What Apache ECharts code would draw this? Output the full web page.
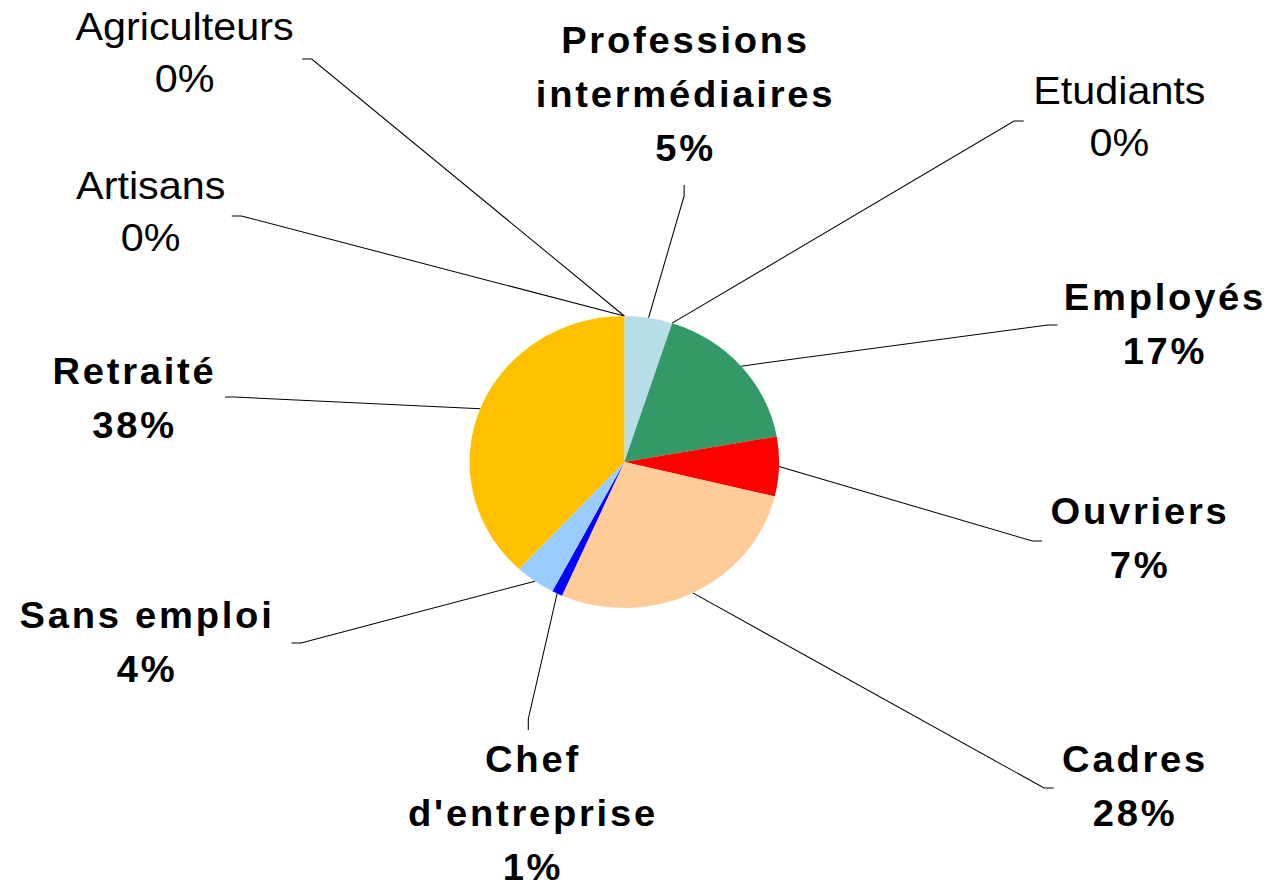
<!DOCTYPE html>
<html>
<head>
<meta charset="utf-8">
<script src="https://cdn.jsdelivr.net/npm/echarts@6/dist/echarts.min.js"></script>
<style>
html, body { margin: 0; padding: 0; background: #fff; overflow: hidden; }
#chart { width: 1200px; height: 887px; transform: scaleX(1.06); transform-origin: 0 0; }
#chart text[style*="bold"] { letter-spacing: 2.6px; }
</style>
</head>
<body>
<div id="chart"></div>
<script>
// ---- data ----
const categories = ['Professions intermédiaires', 'Etudiants', 'Employés', 'Ouvriers', 'Cadres',
  "Chef d'entreprise", 'Sans emploi', 'Retraité', 'Artisans', 'Agriculteurs'];
const shares = [5.0, 0, 17.2, 6.6, 27.8, 1.1, 4.2, 38.1, 0, 0];
const labelTexts = ['Professions\nintermédiaires', 'Etudiants', 'Employés', 'Ouvriers', 'Cadres',
  "Chef\nd'entreprise", 'Sans emploi', 'Retraité', 'Artisans', 'Agriculteurs'];
const boldLabels = [true, false, true, true, true, true, true, true, false, false];
const sliceColors = ['#B7DEE8', '#C0C0C0', '#339966', '#FF0000', '#FFCC99',
  '#0000FF', '#99CCFF', '#FFC000', '#808080', '#A0A0A0'];

// ---- layout (label placement, chart pixel space) ----
const labelPlacement = [
  { x: 646.7, y: 94, side: 'bottom', gap: 10, dx: -1.3 },
  { x: 1056, y: 117, side: 'left', gap: 9, dy: 4 },
  { x: 1099, y: 324, side: 'left', gap: 6, dy: 1 },
  { x: 1075.5, y: 538, side: 'left', gap: 8, dy: 3 },
  { x: 1070.8, y: 786, side: 'left', gap: 8, dy: 2 },
  { x: 502.8, y: 813, side: 'top', gap: 2, dx: -4.4 },
  { x: 138.7, y: 642, side: 'right', gap: 16, dy: 1 },
  { x: 126.9, y: 398, side: 'right', gap: 8, dy: -1 },
  { x: 142.2, y: 212, side: 'right', gap: 6, dy: 4 },
  { x: 174.1, y: 53, side: 'right', gap: 8, dy: 6 }
];
const BOLD_SPACING = 2.6;
const FONT = "'Liberation Sans', Arial, Helvetica, sans-serif";

const chart = echarts.init(document.getElementById('chart'), null, { renderer: 'svg' });

const seriesData = categories.map((name, i) => ({
  name: name,
  value: shares[i],
  itemStyle: { color: sliceColors[i] },
  label: boldLabels[i]
    ? { fontWeight: 'bold', fontSize: 36, lineHeight: 54 }
    : { fontWeight: 'normal', fontSize: 39, lineHeight: 52 }
}));

chart.setOption({
  animation: false,
  backgroundColor: '#ffffff',
  series: [{
    type: 'pie',
    center: [589, 462],
    radius: 146,
    startAngle: 90,
    clockwise: true,
    avoidLabelOverlap: false,
    silent: true,
    itemStyle: { borderWidth: 0 },
    label: {
      show: true,
      position: 'outside',
      color: '#000',
      fontFamily: FONT,
      align: 'center',
      formatter: function (p) {
        return labelTexts[p.dataIndex] + '\n' + Math.round(p.percent) + '%';
      }
    },
    labelLine: {
      show: true,
      length: 20,
      length2: 10,
      smooth: false,
      lineStyle: { color: '#000', width: 1 }
    },
    labelLayout: function (p) {
      const L = labelPlacement[p.dataIndex];
      const lines = String(p.text).split('\n');
      const maxChars = Math.max.apply(null, lines.map(s => s.length));
      const w = p.labelRect.width + (boldLabels[p.dataIndex] ? BOLD_SPACING * maxChars : 0);
      const h = p.labelRect.height;
      const edge = p.labelLinePoints ? p.labelLinePoints[0].slice() : [589, 462];
      let end, elbow;
      if (L.side === 'left') {
        end = [L.x - w / 2 - L.gap, L.y + (L.dy || 0)];
        elbow = [end[0] - 9, end[1]];
      } else if (L.side === 'right') {
        end = [L.x + w / 2 + L.gap, L.y + (L.dy || 0)];
        elbow = [end[0] + 9, end[1]];
      } else if (L.side === 'bottom') {
        end = [L.x + (L.dx || 0), L.y + h / 2 + L.gap];
        elbow = [end[0], end[1] + 11];
      } else {
        end = [L.x + (L.dx || 0), L.y - h / 2 - L.gap];
        elbow = [end[0], end[1] - 11];
      }
      return {
        x: L.x,
        y: L.y,
        align: 'center',
        verticalAlign: 'middle',
        labelLinePoints: [edge, elbow, end]
      };
    },
    emphasis: { disabled: true },
    data: seriesData
  }]
});
</script>
</body>
</html>
